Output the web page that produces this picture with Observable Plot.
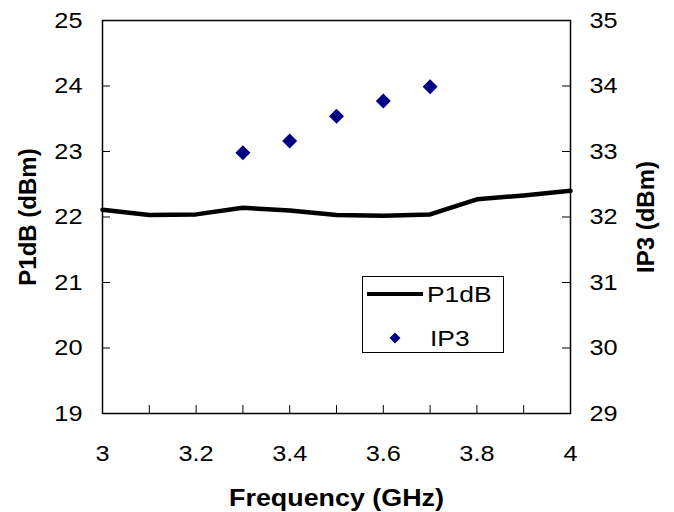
<!DOCTYPE html>
<html>
<head>
<meta charset="utf-8">
<script src="https://cdn.jsdelivr.net/npm/d3@7"></script>
<script src="https://cdn.jsdelivr.net/npm/@observablehq/plot@0.6"></script>
<style>
  body { margin: 0; background: #fff; }
  #wrap { position: relative; width: 674px; height: 512px; font-family: "Liberation Sans", Arial, sans-serif; }
  #legend { position: absolute; left: 362px; top: 276px; width: 142px; height: 77px; border: 1px solid #000; background: #fff; box-sizing: border-box; }
</style>
</head>
<body>
<div id="wrap"><div id="legend"></div></div>
<script>
// Frequency (GHz)
const freq = [3.0, 3.1, 3.2, 3.3, 3.4, 3.5, 3.6, 3.7, 3.8, 3.9, 4.0];
// P1dB (dBm), left axis
const p1db = [22.11, 22.03, 22.04, 22.14, 22.10, 22.03, 22.02, 22.04, 22.27, 22.33, 22.40];
// IP3 (dBm), right axis
const ip3Freq = [3.3, 3.4, 3.5, 3.6, 3.7];
const ip3 = [32.98, 33.16, 33.54, 33.77, 33.99];
// axis ticks
const leftTicks = [19, 20, 21, 22, 23, 24, 25];
const rightOffset = 10; // IP3 axis 29..35 aligned with P1dB axis 19..25
const xLabelTicks = [3, 3.2, 3.4, 3.6, 3.8, 4];
const xMinorTicks = [3.1, 3.2, 3.3, 3.4, 3.5, 3.6, 3.7, 3.8, 3.9];

const p1Data = freq.map((f, i) => ({f, v: p1db[i]}));
const ipData = ip3Freq.map((f, i) => ({f, v: ip3[i] - rightOffset}));

const diamond = {
  draw(ctx, size) {
    const r = Math.sqrt(size / Math.PI);
    ctx.moveTo(0, -r); ctx.lineTo(r, 0); ctx.lineTo(0, r); ctx.lineTo(-r, 0); ctx.closePath();
  }
};

const chart = Plot.plot({
  width: 674,
  height: 512,
  marginLeft: 102,
  marginRight: 104,
  marginTop: 20,
  marginBottom: 99,
  style: {fontFamily: "'Liberation Sans', Arial, sans-serif", fontSize: "22px", color: "#000", background: "#fff"},
  x: {domain: [3, 4]},
  y: {domain: [19, 25]},
  marks: [
    Plot.frame({stroke: "#000", strokeWidth: 1.5}),
    // inward ticks
    Plot.axisY(leftTicks, {anchor: "left", tickSize: 8, dx: 8, text: null, stroke: "#000", label: null}),
    Plot.axisY(leftTicks, {anchor: "right", tickSize: 9, dx: -9, text: null, stroke: "#000", label: null}),
    Plot.axisX(xMinorTicks, {anchor: "bottom", tickSize: 8, dy: -8, text: null, stroke: "#000", label: null}),
    // labels
    Plot.axisY(leftTicks, {anchor: "left", tickSize: 0, tickPadding: 20, fontSize: 22,
      tickFormat: d => String(d),
      label: "P1dB (dBm)", labelAnchor: "center", labelOffset: 84, labelArrow: "none"}),
    Plot.axisY(leftTicks, {anchor: "right", tickSize: 0, tickPadding: 19, fontSize: 22,
      tickFormat: d => String(d + rightOffset),
      label: "IP3 (dBm)", labelAnchor: "center", labelOffset: 83, labelArrow: "none"}),
    Plot.axisX(xLabelTicks, {anchor: "bottom", tickSize: 0, tickPadding: 32, fontSize: 22,
      tickFormat: d => String(d),
      label: "Frequency (GHz)", labelAnchor: "center", labelOffset: 92, labelArrow: "none"}),
    Plot.line(p1Data, {x: "f", y: "v", stroke: "#000", strokeWidth: 4.5}),
    Plot.dot(ipData, {x: "f", y: "v", symbol: diamond, r: 7.5, fill: "#000080", stroke: "none"})
  ]
});

const sel = d3.select(chart);
// horizontally widened tick labels, as in the reference
sel.selectAll("g[aria-label='y-axis tick label'] text, g[aria-label='x-axis tick label'] text")
  .attr("transform", function () { return (this.getAttribute("transform") || "") + " scale(1.15,1)"; });
// bold axis titles
sel.selectAll("g[aria-label='y-axis label'] text").attr("font-weight", "bold").attr("font-size", 24);
sel.selectAll("g[aria-label='x-axis label'] text").attr("font-weight", "bold").attr("font-size", 24)
  .attr("transform", function () { return (this.getAttribute("transform") || "") + " scale(1.12,1)"; });

const wrap = document.getElementById("wrap");
wrap.insertBefore(chart, wrap.firstChild);
chart.style.position = "absolute";
chart.style.left = "0px";
chart.style.top = "0px";

// legend
const leg = d3.select("#legend").append("svg").attr("width", 142).attr("height", 77)
  .style("position", "absolute").style("left", "-1px").style("top", "-1px").style("overflow", "visible")
  .style("font-family", "'Liberation Sans', Arial, sans-serif");
leg.append("line").attr("x1", 5).attr("x2", 61).attr("y1", 18).attr("y2", 18).attr("stroke", "#000").attr("stroke-width", 4);
leg.append("text").attr("transform", "translate(65,18) scale(1.2,1)").attr("dy", "0.36em").attr("font-size", 22).text("P1dB");
leg.append("path").attr("transform", "translate(33,62)").attr("d", "M0,-5.5L5.5,0L0,5.5L-5.5,0Z").attr("fill", "#000080");
leg.append("text").attr("transform", "translate(68,62) scale(1.2,1)").attr("dy", "0.36em").attr("font-size", 22).text("IP3");
</script>
</body>
</html>
